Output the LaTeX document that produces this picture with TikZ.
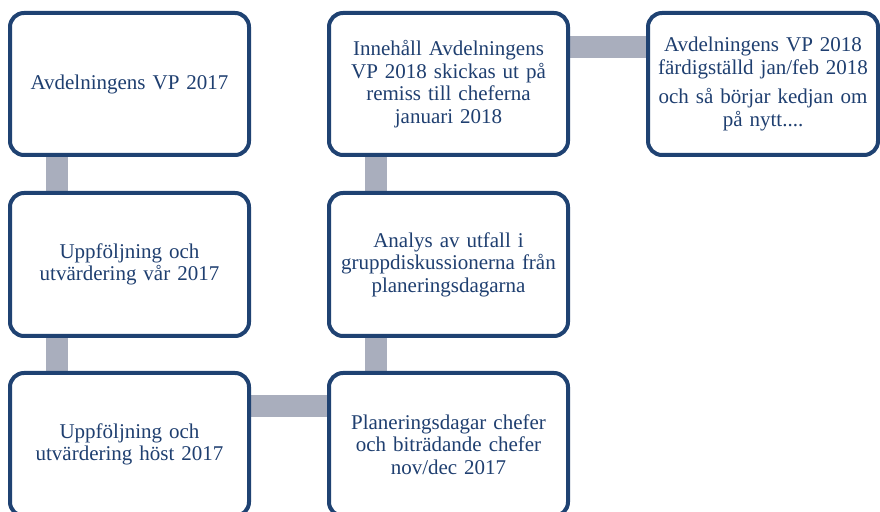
\documentclass[tikz,border=0pt]{standalone}
\usepackage{fontspec}
\setmainfont{Liberation Serif}
\usetikzlibrary{backgrounds}
\definecolor{boxborder}{HTML}{1F4272}
\definecolor{boxtext}{HTML}{1F3F70}
\definecolor{bargrey}{HTML}{A9AEBD}
\tikzset{
  stepbox/.style={rectangle, draw=boxborder, line width=4pt, fill=white,
    rounded corners=14pt, text=boxtext, align=center, inner sep=0pt,
    font=\fontsize{21}{22.5}\selectfont},
  bar/.style={draw=bargrey, line width=22pt}
}
\begin{document}
\begin{tikzpicture}[x=1pt,y=1pt]
\useasboundingbox (0,0) rectangle (880,511);
\clip (0,0) rectangle (880,511);
% column 1
\node[stepbox, minimum width=239pt, minimum height=142pt, text width=232pt] (b1) at (129.5,427) {Avdelningens VP 2017};
\node[stepbox, minimum width=239pt, minimum height=143pt, text width=232pt] (b2) at (129.5,246.5) {Uppföljning och\\utvärdering vår 2017};
\node[stepbox, minimum width=239pt, minimum height=143pt, text width=232pt] (b3) at (129.5,66.5) {Uppföljning och\\utvärdering höst 2017};
% column 2
\node[stepbox, minimum width=239pt, minimum height=143pt, text width=232pt] (b6) at (448.5,66.5) {Planeringsdagar chefer\\och biträdande chefer\\nov/dec 2017};
\node[stepbox, minimum width=239pt, minimum height=143pt, text width=232pt] (b5) at (448.5,246.5) {Analys av utfall i\\gruppdiskussionerna från\\planeringsdagarna};
\node[stepbox, minimum width=239pt, minimum height=142pt, text width=232pt] (b4) at (448.5,427) {Innehåll Avdelningens\\VP 2018 skickas ut på\\remiss till cheferna\\januari 2018};
% column 3
\node[stepbox, minimum width=230pt, minimum height=142pt, text width=226pt] (b7) at (763,427) {Avdelningens VP 2018\\färdigställd jan/feb 2018\\[7pt]och så börjar kedjan om\\på nytt....};
% connectors
\begin{scope}[on background layer]
\draw[bar] ([xshift=49pt]b1.south west) -- ([xshift=49pt]b2.north west);
\draw[bar] ([xshift=49pt]b2.south west) -- ([xshift=49pt]b3.north west);
\draw[bar] ([yshift=-35pt]b3.north east) -- ([yshift=-35pt]b6.north west);
\draw[bar] ([xshift=49pt]b6.north west) -- ([xshift=49pt]b5.south west);
\draw[bar] ([xshift=49pt]b5.north west) -- ([xshift=49pt]b4.south west);
\draw[bar] ([yshift=-36pt]b4.north east) -- ([yshift=-36pt]b7.north west);
\end{scope}
\end{tikzpicture}
\end{document}
